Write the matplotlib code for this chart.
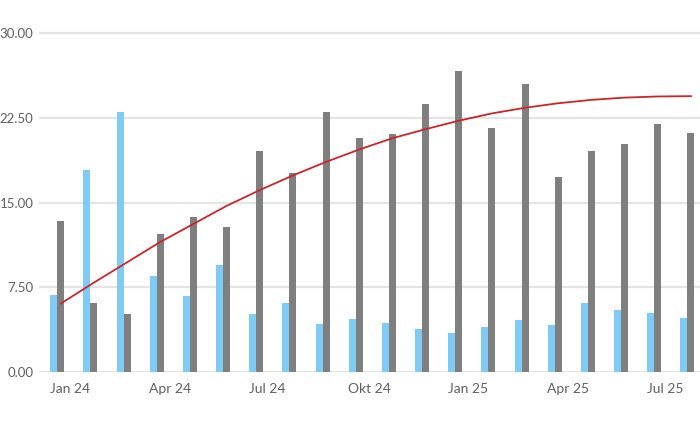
import numpy as np
import matplotlib
matplotlib.use("Agg")
import matplotlib.pyplot as plt

# --- Daten ---
monate = ["Jan 24", "Feb 24", "Mär 24", "Apr 24", "Mai 24", "Jun 24", "Jul 24", "Aug 24",
          "Sep 24", "Okt 24", "Nov 24", "Dez 24", "Jan 25", "Feb 25", "Mär 25", "Apr 25",
          "Mai 25", "Jun 25", "Jul 25", "Aug 25"]
werte_blau = [6.76, 17.9, 23.06, 8.5, 6.7, 9.5, 5.14, 6.07, 4.27, 4.66, 4.35, 3.76,
              3.43, 3.96, 4.63, 4.1, 6.09, 5.45, 5.2, 4.78]
werte_grau = [13.4, 6.07, 5.1, 12.2, 13.76, 12.83, 19.55, 17.58, 23.06, 20.7, 21.06, 23.76,
              26.65, 21.65, 25.5, 17.3, 19.55, 20.2, 21.93, 21.15]
trend = [6.04, 7.9, 9.7, 11.5, 13.1, 14.7, 16.1, 17.4, 18.6, 19.7, 20.7, 21.5,
         22.25, 22.9, 23.4, 23.8, 24.1, 24.3, 24.4, 24.43]
y_ticks = [0, 7.5, 15, 22.5, 30]
x_label_idx = [0, 3, 6, 9, 12, 15, 18]

# --- Farben ---
BLAU = "#80CBF6"
GRAU = "#7F7F7F"
ROT = "#C8262B"
GITTER = "#E4E4E4"
TEXT = "#606060"

plt.rcParams['font.family'] = ['Lato', 'DejaVu Sans']

fig = plt.figure(figsize=(7, 4.25), dpi=100)
ax = fig.add_axes([0.0557, 0.1253, 0.9443, 0.8043])

x = np.arange(len(monate))
breite = 0.21
ax.bar(x - breite / 2, werte_blau, width=breite, color=BLAU, zorder=2)
ax.bar(x + breite / 2, werte_grau, width=breite, color=GRAU, zorder=2)
ax.plot(x + breite / 2, trend, color=ROT, linewidth=1.3, zorder=3)

ax.set_xlim(-0.55, 19.38)
ax.set_ylim(0, 30.3)

# y-Achse: Beschriftung so, dass sie noch ins Bild passt
ax.set_yticks(y_ticks)
ax.set_yticklabels([f"{v:.2f}" for v in y_ticks])
ax.yaxis.grid(True, color=GITTER, linewidth=1.6, zorder=0)
ax.set_axisbelow(True)

ax.set_xticks(x[x_label_idx] - 0.23)
ax.set_xticklabels([monate[i] for i in x_label_idx], ha="left")

ax.tick_params(axis="both", length=0, labelsize=10, colors=TEXT)
ax.tick_params(axis="y", pad=4, labelsize=9.5)
ax.tick_params(axis="x", pad=8)
for s in ax.spines.values():
    s.set_visible(False)

fig.savefig("out.png", dpi=100)
